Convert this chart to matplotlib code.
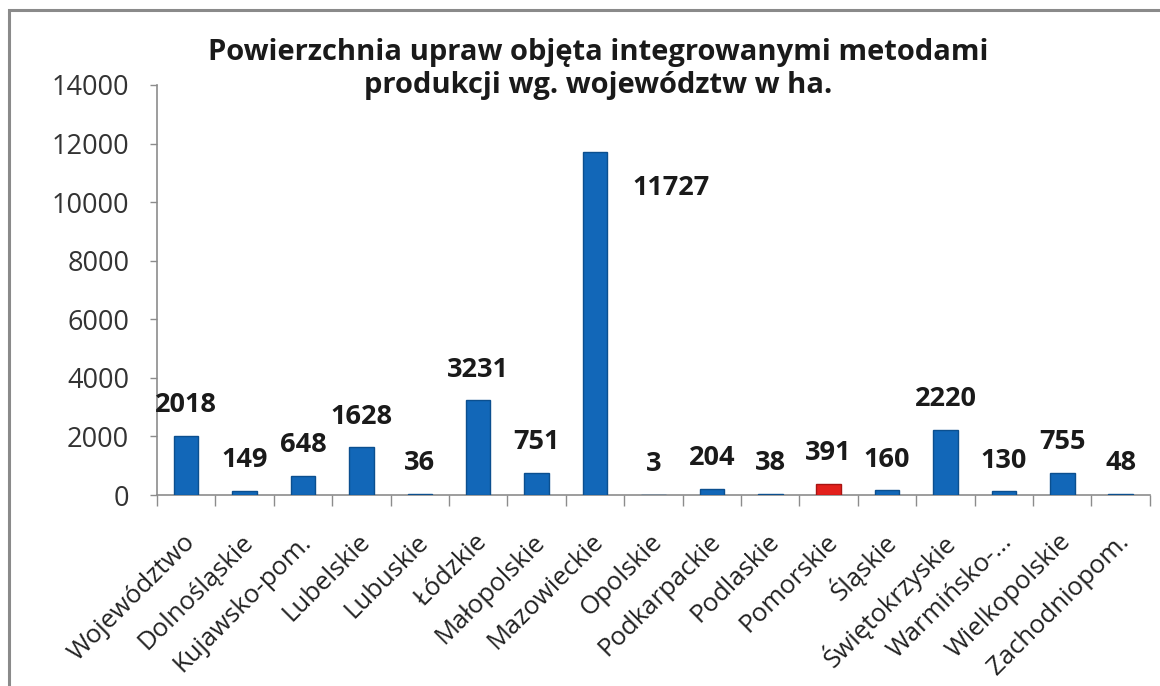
import matplotlib
matplotlib.use('Agg')
from matplotlib import pyplot as plt
from matplotlib.patches import Rectangle
import matplotlib.transforms as mtransforms

plt.rcParams['font.family'] = ['Open Sans', 'DejaVu Sans']

# colours
Blue = '#1267b8'
BlueEdge = '#0b4f8f'
Red = '#e3201c'
RedEdge = '#a81412'

regions = ['Województwo', 'Dolnośląskie', 'Kujawsko-pom.', 'Lubelskie', 'Lubuskie',
           'Łódzkie', 'Małopolskie', 'Mazowieckie', 'Opolskie', 'Podkarpackie',
           'Podlaskie', 'Pomorskie', 'Śląskie', 'Świętokrzyskie', 'Warmińsko-...',
           'Wielkopolskie', 'Zachodniopom.']
area_ha = [2018, 149, 648, 1628, 36, 3231, 751, 11727, 3, 204, 38, 391, 160,
           2220, 130, 755, 48]
highlight = 'Pomorskie'

fig = plt.figure(figsize=(11.6, 6.86), dpi=100)
ax = fig.add_axes([0.1353, 0.2784, 0.856, 0.5977])

x = list(range(len(regions)))
colors = [Red if r == highlight else Blue for r in regions]
edges = [RedEdge if r == highlight else BlueEdge for r in regions]
ax.bar(x, area_ha, width=0.42, color=colors, edgecolor=edges, linewidth=1.0, zorder=3)

# data labels
for i, v in enumerate(area_ha):
    if v == max(area_ha):
        off = (55, -26)
    else:
        off = (0, 22)
    ax.annotate(str(v), (i, v), xytext=off, textcoords='offset points',
                ha='center', va='center', fontsize=19.5, fontweight='bold',
                color='#1a1a1a')

ax.set_ylim(0, 14000)
ax.set_xlim(-0.5, len(regions) - 0.5)
ax.set_yticks(range(0, 14001, 2000))
ax.tick_params(axis='y', length=5, width=1, color='#8c8c8c', pad=15,
               labelsize=19.5, labelcolor='#333333')

# x ticks at category borders, labels at centres
ax.set_xticks([i - 0.5 for i in range(len(regions) + 1)])
ax.set_xticklabels([])
ax.tick_params(axis='x', which='major', length=8, width=1, color='#8c8c8c')
ax.set_xticks(x, minor=True)
ax.set_xticklabels(regions, minor=True, rotation=45, ha='right', va='center',
                   rotation_mode='anchor', fontsize=18.5, color='#222222')
ax.tick_params(axis='x', which='minor', length=0, pad=31)
shift = mtransforms.ScaledTranslation(5 / 100, 0, fig.dpi_scale_trans)
for lab in ax.get_xticklabels(minor=True):
    lab.set_transform(lab.get_transform() + shift)

for s in ['top', 'right']:
    ax.spines[s].set_visible(False)
for s in ['left', 'bottom']:
    ax.spines[s].set_color('#8c8c8c')
    ax.spines[s].set_linewidth(1.2)

fig.text(0.516, 0.8995,
         'Powierzchnia upraw objęta integrowanymi metodami\nprodukcji wg. województw w ha.',
         ha='center', va='center', fontsize=21, fontweight='bold',
         color='#1a1a1a', linespacing=1.2)

# outer chart frame
fig.patches.append(Rectangle((9 / 1160, -0.05), 1.2, 1 - 10 / 686 + 0.05,
                             transform=fig.transFigure, fill=False,
                             edgecolor='#8a8a8a', linewidth=2.2))

fig.savefig('out.png', dpi=100)
